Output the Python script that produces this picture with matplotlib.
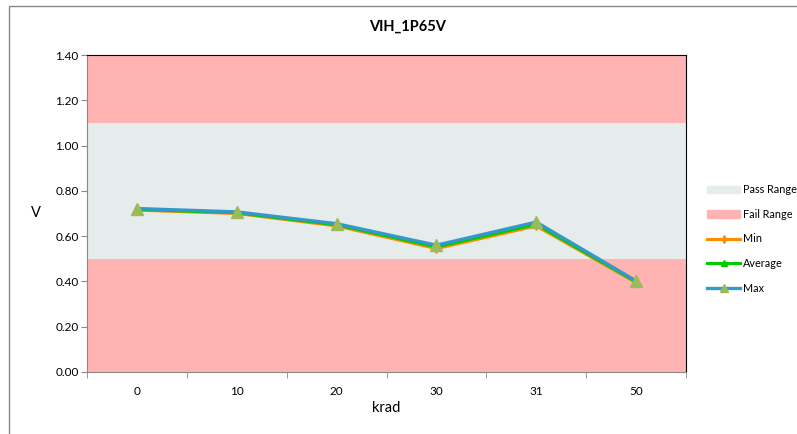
import numpy as np
import matplotlib.pyplot as plt
from matplotlib.patches import Patch, Rectangle
from matplotlib.lines import Line2D

plt.rcParams['font.family'] = ['Lato', 'DejaVu Sans']

# Données
krad = ['0', '10', '20', '30', '31', '50']
v_min = [0.715, 0.700, 0.645, 0.545, 0.645, 0.395]
v_avg = [0.718, 0.703, 0.650, 0.552, 0.652, 0.398]
v_max = [0.722, 0.707, 0.655, 0.560, 0.662, 0.402]
pass_low, pass_high = 0.50, 1.10
y_top = 1.40

fig = plt.figure(figsize=(7.97, 4.34), dpi=100)
ax = fig.add_axes([87/797, 62/434, 599/797, 317/434])

x = np.arange(len(krad))
ax.set_xlim(-0.5, len(krad) - 0.5)
ax.set_ylim(0, y_top)

# bandes pass / fail
ax.axhspan(0, pass_low, color='#FFB3B3', lw=0, zorder=0)
ax.axhspan(pass_low, pass_high, color='#E6ECEC', lw=0, zorder=0)
ax.axhspan(pass_high, y_top, color='#FFB3B3', lw=0, zorder=0)

ax.plot(x, v_min, color='#FF8C00', lw=2.2, marker='d', ms=4, zorder=3)
ax.plot(x, v_avg, color='#00CC00', lw=2.2, marker='^', ms=4, zorder=4)
ax.plot(x, v_max, color='#3399CC', lw=2.4, marker='^', ms=8,
        mfc='#9BBB59', mec='#9BBB59', zorder=5)

ax.set_yticks(np.arange(0, 1.41, 0.2))
ax.set_yticklabels([f'{v:.2f}' for v in np.arange(0, 1.41, 0.2)], fontsize=8.5)
ax.set_xticks(x)
ax.set_xticklabels(krad, fontsize=8.5)
ax.set_xticks(np.arange(-0.5, len(krad), 1), minor=True)
ax.tick_params(axis='x', which='major', length=0, pad=10)
ax.tick_params(axis='x', which='minor', length=4, color='#888888', direction='out')
ax.tick_params(axis='y', length=4, color='#888888', direction='out', pad=2)

for s in ['left', 'bottom']:
    ax.spines[s].set_color('#888888')
for s in ['top', 'right']:
    ax.spines[s].set_color('black')

fig.text(408/797, 1 - 27/434, 'VIH_1P65V', ha='center', va='center',
         fontsize=10.5, fontweight='bold')
fig.text(36/797, 1 - 213/434, 'V', ha='center', va='center', fontsize=10.5)
fig.text(386/797, 1 - 408/434, 'krad', ha='center', va='center', fontsize=10.5)

# cadre du graphique
fig.patches.append(Rectangle((9/797, -0.1), 2, 1 - 6/434 + 0.1,
                             transform=fig.transFigure, fill=False,
                             ec='#888888', lw=1))

handles = [
    Patch(color='#E6ECEC'),
    Patch(color='#FFB3B3'),
    Line2D([], [], color='#FF8C00', lw=2.2, marker='d', ms=4),
    Line2D([], [], color='#00CC00', lw=2.2, marker='^', ms=4),
    Line2D([], [], color='#3399CC', lw=2.4, marker='^', ms=6, mfc='#9BBB59', mec='#9BBB59'),
]
labels = ['Pass Range', 'Fail Range', 'Min', 'Average', 'Max']
fig.legend(handles, labels, loc='upper left', bbox_to_anchor=(703/797, 1 - 180/434),
           frameon=False, fontsize=7.8, handlelength=3.0, handletextpad=0.3,
           labelspacing=1.25, borderaxespad=0)

fig.savefig('out.png', dpi=100)
